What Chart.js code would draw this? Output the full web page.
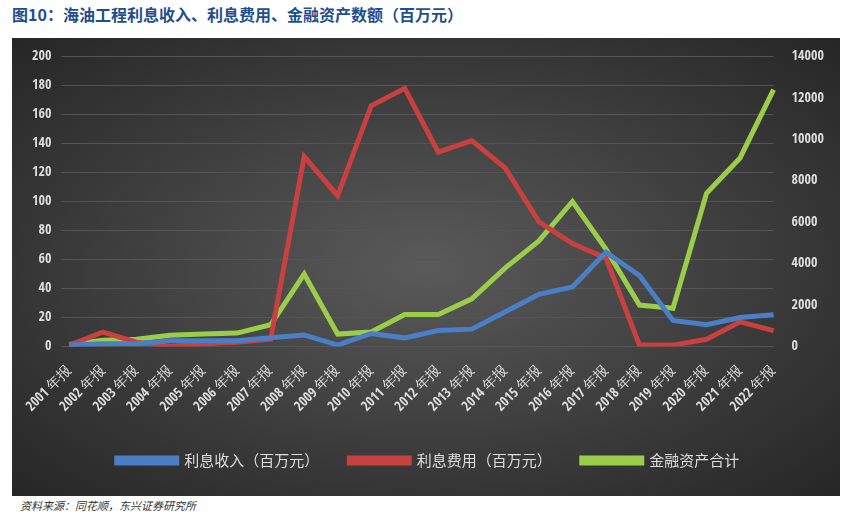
<!DOCTYPE html>
<html><head><meta charset="utf-8">
<script src="https://cdn.jsdelivr.net/npm/chart.js@4/dist/chart.umd.min.js"></script>
<style>
body{margin:0;background:#fff;width:865px;height:517px;overflow:hidden;font-family:"Noto Sans CJK SC",sans-serif}
#t{position:absolute;left:12px;top:2px;font-size:16px;font-weight:bold;color:#1f4e8c}
#box{position:absolute;left:12px;top:38px;width:828px;height:458px;background:radial-gradient(ellipse at center,#5a5a5a 0%,#3a3a3a 60%,#262626 100%)}
#f{position:absolute;left:20px;top:497px;font-size:11px;font-style:italic;color:#333}
</style></head><body>
<div id="t">图10：海油工程利息收入、利息费用、金融资产数额（百万元）</div>
<div id="box"><canvas id="c" width="828" height="458"></canvas></div>
<div id="f">资料来源：同花顺，东兴证券研究所</div>
<script>
const years=["2001 年报","2002 年报","2003 年报","2004 年报","2005 年报","2006 年报","2007 年报","2008 年报","2009 年报","2010 年报","2011 年报","2012 年报","2013 年报","2014 年报","2015 年报","2016 年报","2017 年报","2018 年报","2019 年报","2020 年报","2021 年报","2022 年报"];
const interestIncome=[1,2,2,4,4,4,6,8,1,9,6,11,12,24,36,41,65,49,18,15,20,22];
const interestExpense=[1,10,3,0,2,3,5,131,104,166,178,134,142,123,86,71,61,1,1,5,17,11];
const financialAssets=[100,300,350,550,600,650,1050,3500,600,700,1550,1550,2300,3800,5100,7000,4700,2000,1850,7400,9100,12400];
const tickFont={family:"'Open Sans Condensed','Liberation Sans Narrow','DejaVu Sans Condensed',sans-serif",size:14};
new Chart(document.getElementById('c'),{type:'line',
data:{labels:years,datasets:[
{label:'利息收入（百万元）',data:interestIncome,borderColor:'#4a7fc8',backgroundColor:'#4a7fc8',yAxisID:'y'},
{label:'利息费用（百万元）',data:interestExpense,borderColor:'#c8403f',backgroundColor:'#c8403f',yAxisID:'y'},
{label:'金融资产合计',data:financialAssets,borderColor:'#9acd4a',backgroundColor:'#9acd4a',yAxisID:'y2'}]},
options:{responsive:false,animation:false,
elements:{point:{radius:0},line:{borderWidth:5,tension:0}},
layout:{padding:{left:10,right:6,top:14,bottom:18}},
plugins:{legend:{position:'bottom',labels:{color:'#ddd',font:{size:15,family:"'Noto Sans CJK SC'"},boxWidth:60,boxHeight:5,padding:30}}},
scales:{
x:{grid:{display:false},border:{display:false},ticks:{color:'#ddd',font:tickFont,maxRotation:45,minRotation:45,autoSkip:false,padding:8}},
y:{min:0,max:200,ticks:{stepSize:20,color:'#ddd',font:tickFont,padding:10},grid:{color:'#555'},border:{display:false}},
y2:{position:'right',min:0,max:14000,ticks:{stepSize:2000,color:'#ddd',font:tickFont,padding:10,callback:v=>String(v)},grid:{display:false},border:{display:false}}
}}});
</script></body></html>
